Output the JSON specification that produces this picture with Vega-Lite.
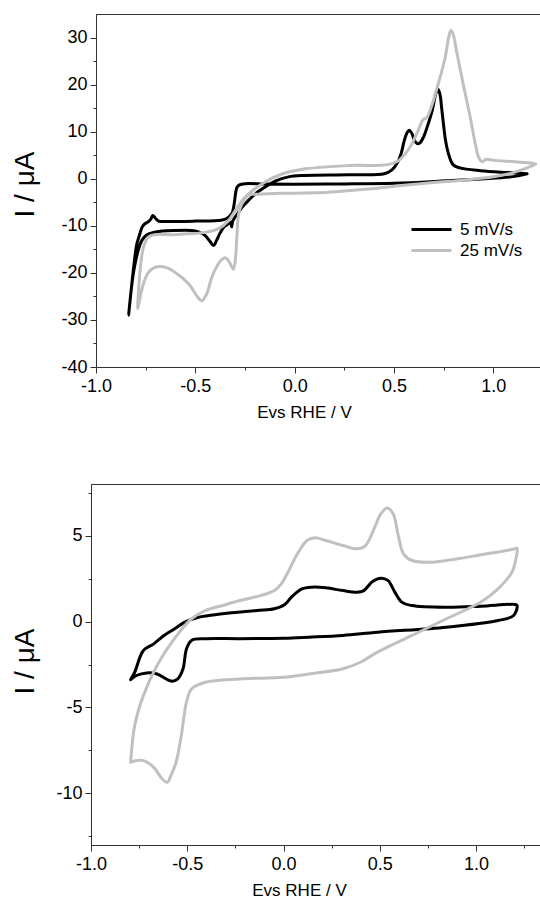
{
  "$schema": "https://vega.github.io/schema/vega-lite/v6.json",
  "padding": {"left": 9, "top": 13, "right": 0, "bottom": 0},
  "background": "white",
  "config": {
    "font": "Liberation Sans",
    "view": {"stroke": "#333333", "strokeWidth": 1},
    "axis": {
      "domainColor": "#333333", "tickColor": "#333333", "labelColor": "#000000", "titleColor": "#000000",
      "labelFont": "Liberation Sans", "titleFont": "Liberation Sans", "labelFontSize": 18,
      "titleFontWeight": "normal", "grid": false, "labelFlush": false, "labelOverlap": false,
      "tickWidth": 1, "domainWidth": 1, "labelPadding": 3
    },
    "legend": {"padding": 0}
  },
  "datasets": {
    "none": [],
    "top": [
      {"s":"5 mV/s","k":1,"v":1.17,"i":1.06},{"s":"5 mV/s","k":2,"v":1.10,"i":0.45},{"s":"5 mV/s","k":3,"v":0.94,"i":-0.05},{"s":"5 mV/s","k":4,"v":0.76,"i":-0.45},{"s":"5 mV/s","k":5,"v":0.5,"i":-0.95},{"s":"5 mV/s","k":6,"v":0.25,"i":-1.1},{"s":"5 mV/s","k":7,"v":0.0,"i":-1.15},{"s":"5 mV/s","k":8,"v":-0.15,"i":-1.1},{"s":"5 mV/s","k":9,"v":-0.25,"i":-1.05},{"s":"5 mV/s","k":10,"v":-0.278,"i":-1.3},
      {"s":"5 mV/s","k":11,"v":-0.29,"i":-1.8},{"s":"5 mV/s","k":12,"v":-0.297,"i":-3.0},{"s":"5 mV/s","k":13,"v":-0.305,"i":-5.5},{"s":"5 mV/s","k":14,"v":-0.316,"i":-7.4},{"s":"5 mV/s","k":15,"v":-0.34,"i":-8.4},{"s":"5 mV/s","k":16,"v":-0.37,"i":-8.8},{"s":"5 mV/s","k":17,"v":-0.5,"i":-9.0},{"s":"5 mV/s","k":18,"v":-0.65,"i":-9.1},{"s":"5 mV/s","k":19,"v":-0.685,"i":-9.0},{"s":"5 mV/s","k":20,"v":-0.703,"i":-8.3},
      {"s":"5 mV/s","k":21,"v":-0.714,"i":-7.8},{"s":"5 mV/s","k":22,"v":-0.724,"i":-8.6},{"s":"5 mV/s","k":23,"v":-0.736,"i":-9.1},{"s":"5 mV/s","k":24,"v":-0.755,"i":-9.6},{"s":"5 mV/s","k":25,"v":-0.769,"i":-10.4},{"s":"5 mV/s","k":26,"v":-0.78,"i":-11.8},{"s":"5 mV/s","k":27,"v":-0.795,"i":-14},{"s":"5 mV/s","k":28,"v":-0.811,"i":-19},{"s":"5 mV/s","k":29,"v":-0.825,"i":-24.5},{"s":"5 mV/s","k":30,"v":-0.836,"i":-29},
      {"s":"5 mV/s","k":31,"v":-0.829,"i":-26},{"s":"5 mV/s","k":32,"v":-0.815,"i":-21},{"s":"5 mV/s","k":33,"v":-0.803,"i":-18},{"s":"5 mV/s","k":34,"v":-0.786,"i":-15},{"s":"5 mV/s","k":35,"v":-0.769,"i":-13.1},{"s":"5 mV/s","k":36,"v":-0.744,"i":-11.9},{"s":"5 mV/s","k":37,"v":-0.70,"i":-11.3},{"s":"5 mV/s","k":38,"v":-0.6,"i":-11.0},{"s":"5 mV/s","k":39,"v":-0.52,"i":-11.0},{"s":"5 mV/s","k":40,"v":-0.484,"i":-11.3},
      {"s":"5 mV/s","k":41,"v":-0.45,"i":-12.1},{"s":"5 mV/s","k":42,"v":-0.425,"i":-13.4},{"s":"5 mV/s","k":43,"v":-0.408,"i":-14.2},{"s":"5 mV/s","k":44,"v":-0.392,"i":-13.0},{"s":"5 mV/s","k":45,"v":-0.375,"i":-11.5},{"s":"5 mV/s","k":46,"v":-0.355,"i":-10.2},{"s":"5 mV/s","k":47,"v":-0.335,"i":-9.6},{"s":"5 mV/s","k":48,"v":-0.322,"i":-9.3},{"s":"5 mV/s","k":49,"v":-0.317,"i":-10.2},{"s":"5 mV/s","k":50,"v":-0.312,"i":-9.0},
      {"s":"5 mV/s","k":51,"v":-0.29,"i":-7.6},{"s":"5 mV/s","k":52,"v":-0.266,"i":-6.1},{"s":"5 mV/s","k":53,"v":-0.23,"i":-4.5},{"s":"5 mV/s","k":54,"v":-0.198,"i":-3.2},{"s":"5 mV/s","k":55,"v":-0.15,"i":-1.8},{"s":"5 mV/s","k":56,"v":-0.098,"i":-0.5},{"s":"5 mV/s","k":57,"v":-0.031,"i":0.4},{"s":"5 mV/s","k":58,"v":0.05,"i":0.7},{"s":"5 mV/s","k":59,"v":0.27,"i":0.85},{"s":"5 mV/s","k":60,"v":0.45,"i":1.05},
      {"s":"5 mV/s","k":61,"v":0.49,"i":1.9},{"s":"5 mV/s","k":62,"v":0.52,"i":3.6},{"s":"5 mV/s","k":63,"v":0.537,"i":5.5},{"s":"5 mV/s","k":64,"v":0.553,"i":8.3},{"s":"5 mV/s","k":65,"v":0.566,"i":9.8},{"s":"5 mV/s","k":66,"v":0.577,"i":10.3},{"s":"5 mV/s","k":67,"v":0.59,"i":9.6},{"s":"5 mV/s","k":68,"v":0.60,"i":8.5},{"s":"5 mV/s","k":69,"v":0.615,"i":7.5},{"s":"5 mV/s","k":70,"v":0.63,"i":7.6},
      {"s":"5 mV/s","k":71,"v":0.648,"i":8.8},{"s":"5 mV/s","k":72,"v":0.667,"i":11},{"s":"5 mV/s","k":73,"v":0.693,"i":14.6},{"s":"5 mV/s","k":74,"v":0.712,"i":18.3},{"s":"5 mV/s","k":75,"v":0.722,"i":19.0},{"s":"5 mV/s","k":76,"v":0.732,"i":17.8},{"s":"5 mV/s","k":77,"v":0.74,"i":15},{"s":"5 mV/s","k":78,"v":0.748,"i":12},{"s":"5 mV/s","k":79,"v":0.76,"i":8},{"s":"5 mV/s","k":80,"v":0.775,"i":5.2},
      {"s":"5 mV/s","k":81,"v":0.797,"i":3.0},{"s":"5 mV/s","k":82,"v":0.832,"i":2.3},{"s":"5 mV/s","k":83,"v":0.936,"i":1.7},{"s":"5 mV/s","k":84,"v":1.074,"i":1.3},{"s":"5 mV/s","k":85,"v":1.17,"i":1.06},
      {"s":"25 mV/s","k":1,"v":1.213,"i":3.1},{"s":"25 mV/s","k":2,"v":1.17,"i":2.3},{"s":"25 mV/s","k":3,"v":1.10,"i":1.3},{"s":"25 mV/s","k":4,"v":1.0,"i":0.4},{"s":"25 mV/s","k":5,"v":0.85,"i":-0.3},{"s":"25 mV/s","k":6,"v":0.7,"i":-0.8},{"s":"25 mV/s","k":7,"v":0.55,"i":-1.4},{"s":"25 mV/s","k":8,"v":0.4,"i":-2.1},{"s":"25 mV/s","k":9,"v":0.25,"i":-2.6},{"s":"25 mV/s","k":10,"v":0.1,"i":-3.0},
      {"s":"25 mV/s","k":11,"v":-0.08,"i":-3.1},{"s":"25 mV/s","k":12,"v":-0.2,"i":-3.3},{"s":"25 mV/s","k":13,"v":-0.232,"i":-3.5},{"s":"25 mV/s","k":14,"v":-0.266,"i":-5.4},{"s":"25 mV/s","k":15,"v":-0.282,"i":-7.5},{"s":"25 mV/s","k":16,"v":-0.291,"i":-12.4},{"s":"25 mV/s","k":17,"v":-0.299,"i":-17.4},{"s":"25 mV/s","k":18,"v":-0.308,"i":-19.2},{"s":"25 mV/s","k":19,"v":-0.318,"i":-18.6},{"s":"25 mV/s","k":20,"v":-0.333,"i":-17.4},
      {"s":"25 mV/s","k":21,"v":-0.35,"i":-16.8},{"s":"25 mV/s","k":22,"v":-0.37,"i":-17.3},{"s":"25 mV/s","k":23,"v":-0.39,"i":-18.5},{"s":"25 mV/s","k":24,"v":-0.417,"i":-20.9},{"s":"25 mV/s","k":25,"v":-0.442,"i":-24.4},{"s":"25 mV/s","k":26,"v":-0.467,"i":-25.9},{"s":"25 mV/s","k":27,"v":-0.492,"i":-24.9},{"s":"25 mV/s","k":28,"v":-0.534,"i":-22.3},{"s":"25 mV/s","k":29,"v":-0.601,"i":-19.9},{"s":"25 mV/s","k":30,"v":-0.651,"i":-18.8},
      {"s":"25 mV/s","k":31,"v":-0.702,"i":-18.8},{"s":"25 mV/s","k":32,"v":-0.736,"i":-19.9},{"s":"25 mV/s","k":33,"v":-0.761,"i":-22.3},{"s":"25 mV/s","k":34,"v":-0.778,"i":-25.2},{"s":"25 mV/s","k":35,"v":-0.79,"i":-27.6},{"s":"25 mV/s","k":36,"v":-0.786,"i":-24},{"s":"25 mV/s","k":37,"v":-0.778,"i":-19.5},{"s":"25 mV/s","k":38,"v":-0.761,"i":-14.5},{"s":"25 mV/s","k":39,"v":-0.736,"i":-12.4},{"s":"25 mV/s","k":40,"v":-0.702,"i":-11.9},
      {"s":"25 mV/s","k":41,"v":-0.618,"i":-11.9},{"s":"25 mV/s","k":42,"v":-0.534,"i":-11.7},{"s":"25 mV/s","k":43,"v":-0.45,"i":-11.4},{"s":"25 mV/s","k":44,"v":-0.383,"i":-10.6},{"s":"25 mV/s","k":45,"v":-0.333,"i":-8.9},{"s":"25 mV/s","k":46,"v":-0.299,"i":-6.8},{"s":"25 mV/s","k":47,"v":-0.249,"i":-3.9},{"s":"25 mV/s","k":48,"v":-0.165,"i":-1.1},{"s":"25 mV/s","k":49,"v":-0.064,"i":1.0},{"s":"25 mV/s","k":50,"v":0.054,"i":2.1},
      {"s":"25 mV/s","k":51,"v":0.27,"i":2.8},{"s":"25 mV/s","k":52,"v":0.47,"i":3.0},{"s":"25 mV/s","k":53,"v":0.52,"i":3.75},{"s":"25 mV/s","k":54,"v":0.555,"i":5.2},{"s":"25 mV/s","k":55,"v":0.589,"i":7.3},{"s":"25 mV/s","k":56,"v":0.624,"i":10.5},{"s":"25 mV/s","k":57,"v":0.645,"i":12.5},{"s":"25 mV/s","k":58,"v":0.665,"i":13.0},{"s":"25 mV/s","k":59,"v":0.69,"i":15.5},{"s":"25 mV/s","k":60,"v":0.708,"i":18},
      {"s":"25 mV/s","k":61,"v":0.735,"i":22},{"s":"25 mV/s","k":62,"v":0.758,"i":25.8},{"s":"25 mV/s","k":63,"v":0.775,"i":30},{"s":"25 mV/s","k":64,"v":0.786,"i":31.5},{"s":"25 mV/s","k":65,"v":0.797,"i":30.8},{"s":"25 mV/s","k":66,"v":0.815,"i":27.1},{"s":"25 mV/s","k":67,"v":0.849,"i":20.0},{"s":"25 mV/s","k":68,"v":0.884,"i":13},{"s":"25 mV/s","k":69,"v":0.91,"i":7.3},{"s":"25 mV/s","k":70,"v":0.927,"i":4.5},
      {"s":"25 mV/s","k":71,"v":0.945,"i":3.6},{"s":"25 mV/s","k":72,"v":0.962,"i":4.1},{"s":"25 mV/s","k":73,"v":1.005,"i":3.9},{"s":"25 mV/s","k":74,"v":1.11,"i":3.6},{"s":"25 mV/s","k":75,"v":1.196,"i":3.3},{"s":"25 mV/s","k":76,"v":1.213,"i":3.1}
    ],
    "bot": [
      {"s":"5 mV/s","k":1,"v":-0.794,"i":-3.38},{"s":"5 mV/s","k":2,"v":-0.773,"i":-2.95},{"s":"5 mV/s","k":3,"v":-0.728,"i":-1.69},{"s":"5 mV/s","k":4,"v":-0.674,"i":-1.3},{"s":"5 mV/s","k":5,"v":-0.621,"i":-0.81},{"s":"5 mV/s","k":6,"v":-0.567,"i":-0.43},{"s":"5 mV/s","k":7,"v":-0.513,"i":-0.04},{"s":"5 mV/s","k":8,"v":-0.442,"i":0.25},{"s":"5 mV/s","k":9,"v":-0.317,"i":0.45},{"s":"5 mV/s","k":10,"v":-0.138,"i":0.64},
      {"s":"5 mV/s","k":11,"v":-0.048,"i":0.74},{"s":"5 mV/s","k":12,"v":0.005,"i":0.97},{"s":"5 mV/s","k":13,"v":0.041,"i":1.42},{"s":"5 mV/s","k":14,"v":0.095,"i":1.9},{"s":"5 mV/s","k":15,"v":0.148,"i":2.0},{"s":"5 mV/s","k":16,"v":0.22,"i":1.96},{"s":"5 mV/s","k":17,"v":0.309,"i":1.8},{"s":"5 mV/s","k":18,"v":0.381,"i":1.71},{"s":"5 mV/s","k":19,"v":0.417,"i":1.8},{"s":"5 mV/s","k":20,"v":0.462,"i":2.33},
      {"s":"5 mV/s","k":21,"v":0.506,"i":2.52},{"s":"5 mV/s","k":22,"v":0.542,"i":2.39},{"s":"5 mV/s","k":23,"v":0.578,"i":1.71},{"s":"5 mV/s","k":24,"v":0.614,"i":1.13},{"s":"5 mV/s","k":25,"v":0.667,"i":0.93},{"s":"5 mV/s","k":26,"v":0.846,"i":0.83},{"s":"5 mV/s","k":27,"v":1.025,"i":0.89},{"s":"5 mV/s","k":28,"v":1.204,"i":0.99},{"s":"5 mV/s","k":29,"v":1.213,"i":0.93},{"s":"5 mV/s","k":30,"v":1.195,"i":0.35},
      {"s":"5 mV/s","k":31,"v":1.114,"i":0.06},{"s":"5 mV/s","k":32,"v":0.846,"i":-0.33},{"s":"5 mV/s","k":33,"v":0.488,"i":-0.62},{"s":"5 mV/s","k":34,"v":0.309,"i":-0.81},{"s":"5 mV/s","k":35,"v":0.131,"i":-0.91},{"s":"5 mV/s","k":36,"v":0.0,"i":-0.97},{"s":"5 mV/s","k":37,"v":-0.227,"i":-1.0},{"s":"5 mV/s","k":38,"v":-0.406,"i":-1.0},{"s":"5 mV/s","k":39,"v":-0.478,"i":-1.1},{"s":"5 mV/s","k":40,"v":-0.504,"i":-1.59},
      {"s":"5 mV/s","k":41,"v":-0.522,"i":-2.75},{"s":"5 mV/s","k":42,"v":-0.549,"i":-3.34},{"s":"5 mV/s","k":43,"v":-0.576,"i":-3.47},{"s":"5 mV/s","k":44,"v":-0.603,"i":-3.38},{"s":"5 mV/s","k":45,"v":-0.657,"i":-3.05},{"s":"5 mV/s","k":46,"v":-0.71,"i":-2.99},{"s":"5 mV/s","k":47,"v":-0.764,"i":-3.14},{"s":"5 mV/s","k":48,"v":-0.794,"i":-3.38},
      {"s":"25 mV/s","k":1,"v":-0.794,"i":-8.2},{"s":"25 mV/s","k":2,"v":-0.773,"i":-6.05},{"s":"25 mV/s","k":3,"v":-0.728,"i":-4.31},{"s":"25 mV/s","k":4,"v":-0.657,"i":-2.56},{"s":"25 mV/s","k":5,"v":-0.567,"i":-1.0},{"s":"25 mV/s","k":6,"v":-0.478,"i":0.16},{"s":"25 mV/s","k":7,"v":-0.406,"i":0.64},{"s":"25 mV/s","k":8,"v":-0.317,"i":0.93},{"s":"25 mV/s","k":9,"v":-0.227,"i":1.22},{"s":"25 mV/s","k":10,"v":-0.12,"i":1.51},
      {"s":"25 mV/s","k":11,"v":-0.048,"i":1.8},{"s":"25 mV/s","k":12,"v":-0.012,"i":2.19},{"s":"25 mV/s","k":13,"v":0.023,"i":2.87},{"s":"25 mV/s","k":14,"v":0.077,"i":4.03},{"s":"25 mV/s","k":15,"v":0.122,"i":4.71},{"s":"25 mV/s","k":16,"v":0.166,"i":4.87},{"s":"25 mV/s","k":17,"v":0.22,"i":4.71},{"s":"25 mV/s","k":18,"v":0.309,"i":4.42},{"s":"25 mV/s","k":19,"v":0.381,"i":4.23},{"s":"25 mV/s","k":20,"v":0.426,"i":4.42},
      {"s":"25 mV/s","k":21,"v":0.47,"i":5.39},{"s":"25 mV/s","k":22,"v":0.506,"i":6.27},{"s":"25 mV/s","k":23,"v":0.538,"i":6.6},{"s":"25 mV/s","k":24,"v":0.569,"i":6.27},{"s":"25 mV/s","k":25,"v":0.596,"i":5.0},{"s":"25 mV/s","k":26,"v":0.623,"i":3.94},{"s":"25 mV/s","k":27,"v":0.667,"i":3.55},{"s":"25 mV/s","k":28,"v":0.757,"i":3.45},{"s":"25 mV/s","k":29,"v":0.846,"i":3.55},{"s":"25 mV/s","k":30,"v":1.025,"i":3.88},
      {"s":"25 mV/s","k":31,"v":1.204,"i":4.23},{"s":"25 mV/s","k":32,"v":1.213,"i":4.27},{"s":"25 mV/s","k":33,"v":1.207,"i":3.65},{"s":"25 mV/s","k":34,"v":1.186,"i":2.87},{"s":"25 mV/s","k":35,"v":1.114,"i":1.9},{"s":"25 mV/s","k":36,"v":1.025,"i":1.13},{"s":"25 mV/s","k":37,"v":0.846,"i":0.16},{"s":"25 mV/s","k":38,"v":0.667,"i":-0.81},{"s":"25 mV/s","k":39,"v":0.488,"i":-1.78},{"s":"25 mV/s","k":40,"v":0.399,"i":-2.37},
      {"s":"25 mV/s","k":41,"v":0.309,"i":-2.75},{"s":"25 mV/s","k":42,"v":0.131,"i":-3.05},{"s":"25 mV/s","k":43,"v":0.0,"i":-3.24},{"s":"25 mV/s","k":44,"v":-0.227,"i":-3.34},{"s":"25 mV/s","k":45,"v":-0.406,"i":-3.53},{"s":"25 mV/s","k":46,"v":-0.478,"i":-3.92},{"s":"25 mV/s","k":47,"v":-0.504,"i":-4.69},{"s":"25 mV/s","k":48,"v":-0.531,"i":-6.63},{"s":"25 mV/s","k":49,"v":-0.558,"i":-8.19},{"s":"25 mV/s","k":50,"v":-0.585,"i":-8.96},
      {"s":"25 mV/s","k":51,"v":-0.603,"i":-9.35},{"s":"25 mV/s","k":52,"v":-0.63,"i":-9.16},{"s":"25 mV/s","k":53,"v":-0.674,"i":-8.48},{"s":"25 mV/s","k":54,"v":-0.728,"i":-8.09},{"s":"25 mV/s","k":55,"v":-0.764,"i":-8.09},{"s":"25 mV/s","k":56,"v":-0.794,"i":-8.2}
    ]
  },
  "vconcat": [
    {"spacing": 0, "hconcat": [
    {"width": 1, "height": 1, "view": {"stroke": null}, "data": {"name": "none"}, "mark": "point", "encoding": {}},
    {
      "width": 444, "height": 353,
      "data": {"name": "top"},
      "mark": {"type": "line", "strokeWidth": 3, "strokeJoin": "round", "strokeCap": "round", "interpolate": "catmull-rom"},
      "encoding": {
        "x": {"field": "v", "type": "quantitative", "scale": {"domain": [-1, 1.235], "nice": false, "zero": false},
          "axis": {"values": [-1, -0.75, -0.5, -0.25, 0, 0.25, 0.5, 0.75, 1],
            "labelExpr": "abs(datum.value*2-round(datum.value*2))<0.01 ? (datum.value<0 ? '-' + format(abs(datum.value), '.1f') : format(datum.value, '.1f')) : ''",
            "tickSize": {"condition": {"test": "abs(datum.value*2-round(datum.value*2))<0.01", "value": 6}, "value": 3},
            "labelPadding": 4, "title": "Evs RHE / V", "titleFontSize": 17, "titlePadding": 9, "titleX": 208, "titleAnchor": "middle"}},
        "y": {"field": "i", "type": "quantitative", "scale": {"domain": [-40, 35], "nice": false, "zero": false},
          "axis": {"values": [-40, -35, -30, -25, -20, -15, -10, -5, 0, 5, 10, 15, 20, 25, 30],
            "labelExpr": "datum.value % 10 === 0 ? (datum.value < 0 ? '-' + abs(datum.value) : '' + datum.value) : ''",
            "tickSize": {"condition": {"test": "datum.value % 10 === 0", "value": 6}, "value": 3},
            "title": "I / μA", "titleFontSize": 28, "titleX": -57, "titleY": 170}},
        "color": {"field": "s", "type": "nominal",
          "scale": {"domain": ["5 mV/s", "25 mV/s"], "range": ["#000000", "#c0c0c0"]},
          "legend": {"orient": "none", "legendX": 401, "legendY": 205, "title": null, "symbolType": "stroke", "symbolSize": 1600, "symbolStrokeWidth": 3, "labelFontSize": 17, "labelOffset": 7, "clipHeight": 21, "rowPadding": 0, "labelColor": "#000000"}},
        "order": {"field": "k", "type": "quantitative"}
      }
    }]},
    {"spacing": 0, "hconcat": [
    {"width": 1, "height": 1, "view": {"stroke": null}, "data": {"name": "none"}, "mark": "point", "encoding": {}},
    {
      "width": 449, "height": 361,
      "data": {"name": "bot"},
      "mark": {"type": "line", "strokeWidth": 3, "strokeJoin": "round", "strokeCap": "round", "interpolate": "catmull-rom"},
      "encoding": {
        "x": {"field": "v", "type": "quantitative", "scale": {"domain": [-1, 1.332], "nice": false, "zero": false},
          "axis": {"values": [-1, -0.75, -0.5, -0.25, 0, 0.25, 0.5, 0.75, 1, 1.25],
            "labelExpr": "abs(datum.value*2-round(datum.value*2))<0.01 ? (datum.value<0 ? '-' + format(abs(datum.value), '.1f') : format(datum.value, '.1f')) : ''",
            "tickSize": {"condition": {"test": "abs(datum.value*2-round(datum.value*2))<0.01", "value": 6}, "value": 3},
            "labelPadding": 4, "title": "Evs RHE / V", "titleFontSize": 17, "titlePadding": 9, "titleX": 208, "titleAnchor": "middle"}},
        "y": {"field": "i", "type": "quantitative", "scale": {"domain": [-13, 8], "nice": false, "zero": false},
          "axis": {"values": [-12.5, -10, -7.5, -5, -2.5, 0, 2.5, 5, 7.5],
            "labelExpr": "abs(datum.value/5-round(datum.value/5))<0.01 ? (datum.value < 0 ? '-' + abs(datum.value) : '' + datum.value) : ''",
            "tickSize": {"condition": {"test": "abs(datum.value/5-round(datum.value/5))<0.01", "value": 6}, "value": 3},
            "title": "I / μA", "titleFontSize": 28, "titleX": -52, "titleY": 177}},
        "color": {"field": "s", "type": "nominal",
          "scale": {"domain": ["5 mV/s", "25 mV/s"], "range": ["#000000", "#c0c0c0"]}, "legend": null},
        "order": {"field": "k", "type": "quantitative"}
      }
    }]}
  ],
  "spacing": 62,
  "bounds": "full",
  "resolve": {"scale": {"x": "independent", "y": "independent", "color": "independent"}, "legend": {"color": "independent"}}
}
